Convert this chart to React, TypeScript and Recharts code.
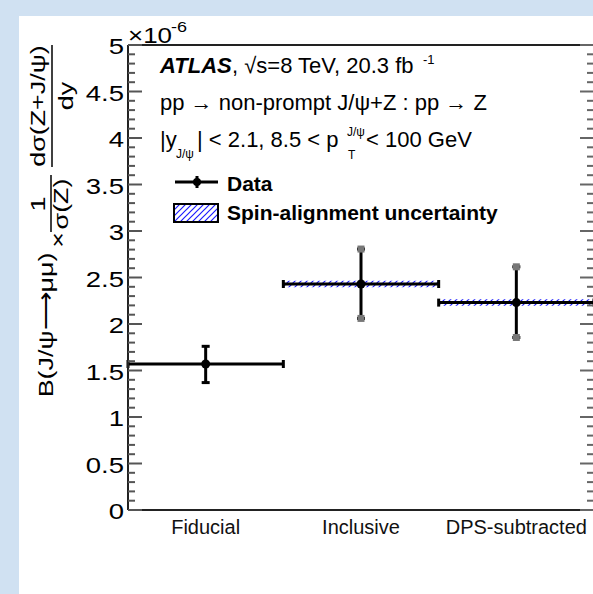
import React from 'react';
import { ComposedChart, Scatter, XAxis, YAxis, ErrorBar, ReferenceArea, ReferenceLine } from 'recharts';

const categories = ['Fiducial', 'Inclusive', 'DPS-subtracted'];
const binCenters = [0.5, 1.5, 2.5];
const binHalfWidths = [0.5, 0.5, 0.5];
const values = [1.57, 2.43, 2.23];
const errLow = [0.2, 0.37, 0.375];
const errHigh = [0.19, 0.376, 0.385];
const spinLow = [0, 0.035, 0.035];
const spinHigh = [0, 0.035, 0.035];
const grayCaps = [false, true, true];
const yMajorTicks = [0, 0.5, 1, 1.5, 2, 2.5, 3, 3.5, 4, 4.5, 5];
const yTickLabels = ['0', '0.5', '1', '1.5', '2', '2.5', '3', '3.5', '4', '4.5', '5'];

const FONT = '"Liberation Sans", Arial, Helvetica, sans-serif';
const PLOT_WIDTH = 466;

const yAllTicks: number[] = [];
for (let i = 0; i <= 50; i++) yAllTicks.push(Math.round(i) / 10);

const data = categories.map((c, i) => ({
  name: c,
  x: binCenters[i],
  y: values[i],
  ey: [errLow[i], errHigh[i]],
  ex: binHalfWidths[i],
}));

const capData: { x: number; y: number }[] = [];
categories.forEach((_, i) => {
  if (grayCaps[i]) {
    capData.push({ x: binCenters[i], y: values[i] + errHigh[i] });
    capData.push({ x: binCenters[i], y: values[i] - errLow[i] });
  }
});

const isMajor = (v: number) => yMajorTicks.some((m) => Math.abs(m - v) < 1e-6);

const LeftTick = (props: any) => {
  const { x, y, payload } = props;
  const v = payload.value;
  const major = isMajor(v);
  const idx = yMajorTicks.findIndex((m) => Math.abs(m - v) < 1e-6);
  const len = major ? 14 : 7;
  const xr = x + PLOT_WIDTH;
  return (
    <g>
      <line x1={x} x2={x + len} y1={y} y2={y} stroke="#555" strokeWidth={2} />
      <line x1={xr - len} x2={xr} y1={y} y2={y} stroke="#666" strokeWidth={2} />
      {major && (
        <text
          transform={`translate(${x - 4},${y + 9}) scale(1.25,1)`}
          textAnchor="end"
          fontFamily={FONT}
          fontSize={22}
          fill="#000"
        >
          {yTickLabels[idx]}
        </text>
      )}
    </g>
  );
};

const BottomTick = (props: any) => {
  const { x, y, payload } = props;
  const idx = binCenters.findIndex((b) => Math.abs(b - payload.value) < 1e-6);
  return (
    <text x={x} y={y + 22} textAnchor="middle" fontFamily={FONT} fontSize={20} fill="#111">
      {categories[idx]}
    </text>
  );
};

const DataDot = (p: any) => <circle cx={p.cx} cy={p.cy} r={4.5} fill="#000" />;
const CapBox = (p: any) => <rect x={p.cx - 3.5} y={p.cy - 3.5} width={7} height={7} fill="#777" />;

const RotText = ({ X, Y, size = 21, children }: any) => (
  <text
    transform={`translate(${X},${Y}) rotate(-90) scale(1.28,1)`}
    textAnchor="middle"
    fontFamily={FONT}
    fontSize={size}
    fill="#000"
  >
    {children}
  </text>
);

const Overlay = () => (
  <svg width={593} height={594} style={{ position: 'absolute', left: 0, top: 0, pointerEvents: 'none' }}>
    {/* y-axis title */}
    <RotText X={53} Y={325}>B(J/ψ⟶μμ)</RotText>
    <RotText X={65} Y={240}>×</RotText>
    <RotText X={45} Y={204}>1</RotText>
    <line x1={51} x2={51} y1={175} y2={232} stroke="#000" strokeWidth={1.5} />
    <RotText X={68} Y={204}>σ(Z)</RotText>
    <RotText X={45} Y={106}>dσ(Z+J/ψ)</RotText>
    <line x1={52} x2={52} y1={45} y2={167} stroke="#000" strokeWidth={1.5} />
    <RotText X={73} Y={96}>dy</RotText>

    {/* exponent */}
    <text transform="translate(128,43) scale(1.18,1)" fontFamily={FONT} fontSize={22} fill="#000">×10</text>
    <text transform="translate(171,32) scale(1.2,1)" fontFamily={FONT} fontSize={15} fill="#000">-6</text>

    {/* header text */}
    <g fontFamily={FONT} fill="#000">
      <text x={160} y={73} fontSize={22} fontWeight="bold" fontStyle="italic">ATLAS</text>
      <text x={232} y={73} fontSize={22}>, √s=8 TeV, 20.3 fb</text>
      <text x={423} y={64} fontSize={13}>-1</text>

      <text x={160} y={110} fontSize={22}>pp → non-prompt J/ψ+Z : pp → Z</text>

      <text x={160} y={147} fontSize={22}>|y</text>
      <text x={176} y={158} fontSize={12}>J/ψ</text>
      <text x={197} y={147} fontSize={22}>| &lt; 2.1, 8.5 &lt; p</text>
      <text x={348} y={159} fontSize={12}>T</text>
      <text x={347} y={136} fontSize={12}>J/ψ</text>
      <text x={366} y={147} fontSize={22}>&lt; 100 GeV</text>

      {/* legend */}
      <line x1={175} x2={218} y1={182} y2={182} stroke="#000" strokeWidth={3} />
      <line x1={197} x2={197} y1={176} y2={188} stroke="#000" strokeWidth={3} />
      <circle cx={197} cy={182} r={4} fill="#000" />
      <text x={227} y={191} fontSize={21} fontWeight="bold">Data</text>
      <rect x={174} y={204} width={44} height={18} fill="url(#hatchBlue)" stroke="#000" strokeWidth={2} />
      <text x={227} y={220} fontSize={21} fontWeight="bold">Spin-alignment uncertainty</text>
    </g>
  </svg>
);

export default function App() {
  return (
    <div style={{ position: 'relative', width: 593, height: 594, overflow: 'hidden', background: '#d0e1f2' }}>
      <style>{'body{margin:0;overflow:hidden}'}</style>
      <svg width={0} height={0} style={{ position: 'absolute' }}>
        <defs>
          <pattern id="hatchBlue" patternUnits="userSpaceOnUse" width={6} height={6}>
            <path d="M-1,1 L1,-1 M0,6 L6,0 M5,7 L7,5" fill="none" stroke="#1a1aff" strokeWidth={1.2} />
          </pattern>
        </defs>
      </svg>
      <div style={{ position: 'absolute', left: 19, top: 16, right: 0, bottom: 0, background: '#fff' }} />
      <div style={{ position: 'absolute', left: 0, top: 0 }}>
        <ComposedChart width={600} height={594} data={data} margin={{ top: 45, right: 6, bottom: 44, left: 68 }}>
          <XAxis
            xAxisId="bottom"
            dataKey="x"
            type="number"
            domain={[0, 3]}
            ticks={binCenters}
            tick={<BottomTick />}
            tickLine={false}
            tickSize={0}
            axisLine={{ stroke: '#222', strokeWidth: 2 }}
            height={40}
            allowDataOverflow
          />
          <YAxis
            yAxisId="left"
            type="number"
            domain={[0, 5]}
            ticks={yAllTicks}
            interval={0}
            tick={<LeftTick />}
            tickLine={false}
            tickSize={0}
            tickMargin={0}
            axisLine={{ stroke: '#222', strokeWidth: 2 }}
            width={60}
            allowDataOverflow
          />
          <ReferenceLine xAxisId="bottom" yAxisId="left" y={5} stroke="#222" strokeWidth={2} ifOverflow="visible" />
          {categories.map((c, i) =>
            spinLow[i] + spinHigh[i] > 0 ? (
              <ReferenceArea
                key={c}
                xAxisId="bottom"
                yAxisId="left"
                x1={binCenters[i] - binHalfWidths[i]}
                x2={binCenters[i] + binHalfWidths[i]}
                y1={values[i] - spinLow[i]}
                y2={values[i] + spinHigh[i]}
                fill="url(#hatchBlue)"
                fillOpacity={1}
                stroke="none"
              />
            ) : null
          )}
          <Scatter
            xAxisId="bottom"
            yAxisId="left"
            data={capData}
            dataKey="y"
            shape={CapBox}
            isAnimationActive={false}
          />
          <Scatter
            xAxisId="bottom"
            yAxisId="left"
            data={data}
            dataKey="y"
            shape={DataDot}
            isAnimationActive={false}
          >
            <ErrorBar dataKey="ex" direction="x" width={4} strokeWidth={3} stroke="#000" isAnimationActive={false} />
            <ErrorBar dataKey="ey" direction="y" width={4} strokeWidth={3} stroke="#000" isAnimationActive={false} />
          </Scatter>
        </ComposedChart>
      </div>
      <Overlay />
    </div>
  );
}
